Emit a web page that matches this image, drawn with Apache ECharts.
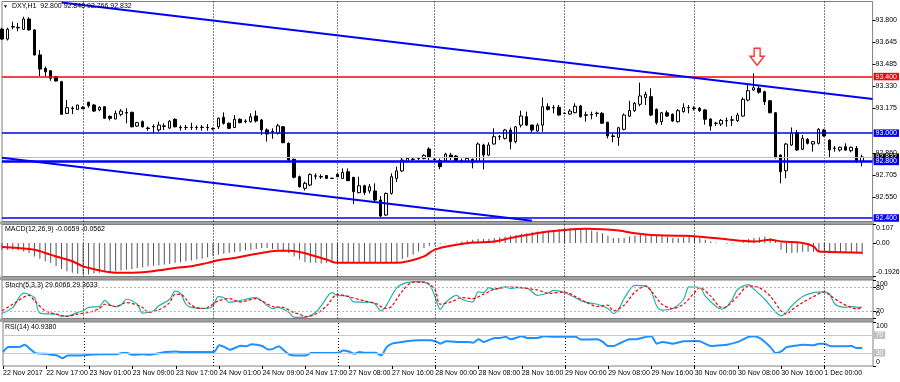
<!DOCTYPE html>
<html><head><meta charset="utf-8">
<script src="https://cdn.jsdelivr.net/npm/echarts@6/dist/echarts.min.js"></script>
<style>html,body{margin:0;padding:0;background:#fff}#c{width:900px;height:382px}</style>
</head><body><div id="c"></div><script>
// ---------- DATA ----------
const sessions = [['22 Nov',9,23],['23 Nov',0,23],['24 Nov',0,22],['27 Nov',6,23],['28 Nov',0,23],['29 Nov',0,23],['30 Nov',0,23],['1 Dec',0,7]];
const firstLabel = '22 Nov 2017';
const futureSlots = 2;

const open = [93.735,93.665,93.750,93.744,93.734,93.807,93.730,93.553,93.458,93.441,
93.399,93.364,93.140,93.178,93.168,93.183,93.218,93.199,93.164,93.187,
93.119,93.100,93.133,93.146,93.147,93.050,93.081,93.036,93.044,93.023,
93.048,93.036,93.098,93.042,93.039,93.040,93.041,93.040,93.041,93.033,
93.045,93.112,93.070,93.040,93.098,93.082,93.081,93.121,93.093,93.023,
93.008,93.000,93.045,92.928,92.815,92.692,92.610,92.633,92.695,92.693,
92.700,92.681,92.709,92.680,92.727,92.688,92.579,92.628,92.591,92.591,
92.527,92.421,92.574,92.680,92.733,92.799,92.813,92.819,92.820,92.888,
92.816,92.805,92.805,92.845,92.838,92.806,92.799,92.815,92.799,92.916,
92.845,92.923,92.974,92.963,93.022,92.940,93.057,93.116,93.057,93.015,
93.057,93.187,93.179,93.183,93.141,93.135,93.145,93.192,93.126,93.131,
93.139,93.140,93.077,92.980,92.970,93.027,93.120,93.159,93.204,93.251,
93.258,93.168,93.081,93.144,93.133,93.081,93.152,93.179,93.177,93.176,
93.164,93.100,93.069,93.065,93.087,93.094,93.088,93.121,93.234,93.305,
93.317,93.293,93.229,93.144,92.845,92.734,92.916,93.003,92.886,92.956,
92.923,92.928,93.022,92.951,92.894,92.881,92.904,92.876,92.893,92.800];
const high = [93.745,93.745,93.788,93.779,93.823,93.820,93.735,93.588,93.470,93.446,
93.405,93.370,93.234,93.190,93.200,93.190,93.222,93.205,93.190,93.190,
93.125,93.160,93.170,93.176,93.152,93.080,93.090,93.047,93.062,93.081,
93.070,93.093,93.105,93.055,93.058,93.074,93.055,93.058,93.064,93.040,
93.110,93.147,93.075,93.128,93.105,93.098,93.140,93.159,93.100,93.034,
93.034,93.066,93.050,92.935,92.820,92.700,92.657,92.716,92.716,92.709,
92.705,92.685,92.715,92.751,92.751,92.690,92.692,92.635,92.640,92.645,
92.555,92.580,92.716,92.763,92.826,92.830,92.830,92.830,92.850,92.900,
92.825,92.820,92.861,92.861,92.845,92.820,92.826,92.820,92.935,92.925,
92.935,93.034,92.987,93.030,93.040,93.050,93.159,93.152,93.060,93.070,
93.253,93.211,93.199,93.199,93.145,93.170,93.211,93.200,93.152,93.152,
93.152,93.150,93.080,93.000,93.045,93.140,93.229,93.220,93.357,93.293,
93.317,93.175,93.150,93.160,93.140,93.170,93.211,93.199,93.190,93.185,
93.170,93.105,93.080,93.100,93.110,93.121,93.144,93.253,93.352,93.423,
93.333,93.300,93.235,93.150,92.850,92.930,93.040,93.022,92.987,92.965,
92.945,93.035,93.030,92.955,92.909,92.905,92.928,92.905,92.909,92.848];
const low = [93.660,93.655,93.734,93.720,93.729,93.725,93.548,93.404,93.400,93.370,
93.365,93.130,93.135,93.135,93.165,93.170,93.180,93.150,93.155,93.100,
93.090,93.098,93.120,93.070,93.040,93.045,93.040,93.017,92.999,93.010,
93.022,93.030,93.040,93.017,93.022,93.022,93.022,93.017,93.017,93.020,
93.030,93.060,93.028,93.035,93.070,93.070,93.075,93.075,92.987,92.940,
92.960,92.990,92.930,92.800,92.680,92.615,92.594,92.625,92.673,92.676,
92.675,92.676,92.690,92.675,92.660,92.499,92.575,92.563,92.575,92.520,
92.405,92.415,92.565,92.655,92.725,92.795,92.805,92.810,92.815,92.810,
92.805,92.744,92.800,92.810,92.800,92.790,92.795,92.751,92.795,92.744,
92.840,92.920,92.952,92.955,92.886,92.928,93.040,93.050,93.003,93.010,
93.010,93.160,93.140,93.125,93.135,93.130,93.140,93.110,93.081,93.098,
93.116,93.065,92.963,92.935,92.910,93.020,93.115,93.150,93.190,93.199,
93.120,93.060,93.058,93.115,93.080,93.075,93.145,93.140,93.160,93.150,
93.060,93.017,93.050,93.050,93.046,93.050,93.080,93.115,93.225,93.300,
93.280,93.199,93.140,92.820,92.645,92.681,92.910,92.875,92.880,92.920,
92.869,92.920,92.975,92.830,92.869,92.870,92.875,92.865,92.790,92.766];
const close = [93.665,93.735,93.754,93.748,93.807,93.730,93.553,93.453,93.434,93.388,
93.369,93.133,93.180,93.174,93.199,93.173,93.194,93.156,93.183,93.105,
93.105,93.140,93.156,93.142,93.045,93.074,93.045,93.033,93.047,93.057,
93.052,93.084,93.045,93.038,93.041,93.040,93.039,93.042,93.039,93.030,
93.105,93.070,93.034,93.098,93.074,93.086,93.116,93.086,93.023,92.994,
93.012,93.052,92.932,92.810,92.688,92.621,92.645,92.707,92.699,92.690,
92.680,92.679,92.692,92.723,92.664,92.586,92.628,92.581,92.621,92.527,
92.414,92.574,92.692,92.733,92.810,92.822,92.817,92.821,92.843,92.830,
92.814,92.763,92.852,92.829,92.805,92.804,92.822,92.791,92.923,92.845,
92.916,92.975,92.976,93.022,92.940,93.045,93.121,93.057,93.022,93.057,
93.187,93.168,93.181,93.128,93.139,93.156,93.190,93.116,93.130,93.129,
93.142,93.070,92.980,92.977,93.038,93.128,93.160,93.211,93.263,93.275,
93.128,93.074,93.144,93.121,93.086,93.159,93.180,93.181,93.175,93.159,
93.098,93.050,93.071,93.090,93.089,93.092,93.128,93.239,93.300,93.321,
93.289,93.222,93.144,92.829,92.727,92.923,92.999,92.881,92.963,92.928,
92.940,93.027,92.980,92.881,92.892,92.900,92.880,92.900,92.800,92.832];

const priceTicks = [93.800,93.645,93.485,93.330,93.175,92.860,92.705,92.550];
const priceMin = 92.3753, priceMax = 93.9308;
const levels = [93.400, 93.000, 92.800, 92.400];
const lastPrice = 92.832;
const upperTrend = [[11, 93.9235],[161, 93.2414]];
const lowerTrend = [[0, 92.8264],[98, 92.381]];
const arrowPoint = [[139, 93.5405]];

const macdHist = [
-0.038,-0.038,-0.038,-0.042,-0.048,-0.057,-0.077,-0.091,-0.105,-0.114,
-0.134,-0.149,-0.162,-0.171,-0.177,-0.181,-0.181,-0.175,-0.171,-0.168,
-0.166,-0.162,-0.158,-0.153,-0.149,-0.143,-0.139,-0.134,-0.130,-0.128,
-0.124,-0.120,-0.114,-0.111,-0.105,-0.101,-0.095,-0.090,-0.082,-0.073,
-0.067,-0.061,-0.057,-0.051,-0.048,-0.042,-0.038,-0.034,-0.029,-0.029,
-0.034,-0.038,-0.048,-0.057,-0.077,-0.095,-0.111,-0.114,-0.114,-0.118,
-0.114,-0.114,-0.111,-0.111,-0.110,-0.112,-0.111,-0.110,-0.111,-0.112,
-0.111,-0.110,-0.109,-0.109,-0.091,-0.082,-0.067,-0.048,-0.029,-0.015,
-0.010,-0.004,-0.003,0.001,0.004,0.009,0.015,0.019,0.023,0.023,
0.025,0.029,0.034,0.038,0.043,0.047,0.053,0.057,0.063,0.066,
0.070,0.072,0.076,0.080,0.082,0.086,0.086,0.086,0.079,0.073,
0.066,0.057,0.042,0.029,0.029,0.029,0.038,0.042,0.047,0.047,
0.047,0.047,0.042,0.038,0.029,0.029,0.034,0.038,0.034,0.029,
0.019,0.009,0.003,0.000,-0.004,-0.003,0.001,0.009,0.023,0.029,
0.034,0.038,0.029,0.019,-0.038,-0.057,-0.057,-0.054,-0.050,-0.050,
-0.050,-0.051,-0.054,-0.057,-0.057,-0.057,-0.057,-0.057,-0.061,-0.0659];
const macdSignal = [[0,-0.023],[3,-0.029],[6,-0.038],[8,-0.057],[10,-0.077],[13,-0.105],[15,-0.134],[18,-0.157],[20,-0.168],[22,-0.171],[26,-0.168],[29,-0.157],[32,-0.143],[35,-0.134],[38,-0.114],[40,-0.099],[43,-0.086],[46,-0.067],[49,-0.051],[51,-0.044],[53,-0.044],[55,-0.051],[57,-0.067],[60,-0.095],[62,-0.114],[73,-0.114],[75,-0.105],[78,-0.077],[80,-0.038],[84,-0.010],[87,0.003],[91,0.009],[94,0.029],[97,0.047],[101,0.066],[104,0.076],[108,0.082],[111,0.080],[114,0.072],[117,0.057],[120,0.047],[123,0.043],[126,0.042],[130,0.034],[133,0.025],[136,0.015],[139,0.009],[142,0.019],[144,0.009],[148,0.0],[150,-0.019],[151,-0.048],[153,-0.051],[159,-0.0562]];
const macdMin = -0.1926, macdMax = 0.107;
const macdTicks = [0.107, 0, -0.1926];
const macdInnerTicks = [0];
const macdInnerLabels = ['0.00'];
const macdEdgeLabels = ['0.107', '-0.1926'];

const stochMain = [[0,13],[2,29],[4,66],[6,54],[7,14],[10,11],[11,6],[12,6],[14,16],[15,20],[16,29],[18,31],[19,47],[20,35],[21,31],[22,35],[23,50],[25,37],[26,14],[28,20],[29,33],[31,50],[32,71],[33,65],[34,37],[35,29],[38,26],[39,33],[40,57],[41,54],[42,42],[44,46],[45,50],[47,54],[48,46],[50,26],[51,29],[53,16],[54,3],[56,3],[58,16],[59,33],[61,67],[62,60],[64,58],[65,43],[68,42],[69,37],[70,20],[71,33],[73,80],[75,94],[77,96],[79,88],[80,58],[81,24],[82,42],[84,60],[85,50],[87,43],[88,69],[89,67],[90,80],[91,76],[93,82],[94,78],[95,80],[97,79],[99,60],[101,67],[102,73],[104,67],[106,54],[107,46],[108,42],[110,37],[112,26],[113,13],[114,24],[115,52],[117,86],[119,84],[120,71],[121,33],[122,22],[124,26],[126,50],[127,82],[129,80],[130,58],[132,31],[133,24],[134,31],[135,50],[136,76],[138,88],[139,76],[141,50],[143,17],[144,7],[145,16],[146,33],[148,57],[150,67],[152,69],[153,63],[154,37],[156,29],[157,31],[158,29],[159,29.6066]];
const stochSignal = [[0,20],[2,37],[5,60],[6,46],[8,20],[10,11.5],[12,5.6],[14,11.5],[16,15.8],[18,26],[19,37],[21,31],[23,41.5],[26,28.7],[27,15.8],[29,22.6],[31,41.5],[32,62.8],[33,62.8],[35,34.6],[37,26],[38,28.7],[40,45.7],[42,51.7],[44,43],[47,51.7],[48,45.7],[50,31.2],[52,28.7],[54,15],[55,11.5],[56,4.7],[58,11.5],[60,32.8],[62,62.8],[64,56.9],[67,45.7],[69,39.6],[71,26],[72,31.2],[74,71.3],[76,94.4],[78,94.4],[80,75.8],[81,37.2],[83,43],[85,54.3],[87,51.7],[89,62.8],[91,75.8],[94,81.8],[96,80],[99,74],[101,65.4],[104,68.8],[106,56.9],[108,42],[110,31.2],[112,34.6],[113,20],[115,34.6],[117,68.8],[119,84.5],[120,71.3],[122,37.2],[124,26],[126,37.2],[128,67.2],[129,80],[131,58],[133,28.7],[134,31.2],[136,58],[138,84.5],[140,80],[142,58],[144,20],[145,11.5],[146,22.6],[148,41.5],[150,56.9],[152,68.8],[153,60.3],[155,41.5],[157,28.7],[158,24.4],[159,29.3633]];
const stochLevels = [80, 20];
const stochTicks = [100, 80, 20, 0];
const stochInnerTicks = [80, 20];
const stochEdgeLabels = ['100', '0'];

const rsi = [[0,31.6],[1,43],[3,43],[4,48.5],[5,39],[6,29.3],[8,27.7],[9,25.4],[10,24],[11,17.7],[12,24],[14,24],[16,25.4],[18,26.9],[21,26.9],[22,29.3],[23,29.3],[24,25.4],[26,26.9],[27,25.4],[29,29.3],[30,31.6],[32,33.1],[33,31.6],[39,31.6],[40,47],[41,43],[42,37],[44,46.2],[45,44.7],[46,49.3],[48,45.4],[49,37.7],[50,39],[51,44.7],[52,35.4],[53,26.2],[54,24],[56,24],[57,29.3],[59,29.3],[62,30],[63,35.4],[64,33.1],[65,27.7],[66,31.6],[67,30],[69,30],[70,24],[71,43],[72,50.8],[73,53.1],[75,57],[77,58.5],[79,58.5],[80,56.2],[81,50.8],[82,56.2],[84,54.7],[86,54.7],[87,53.1],[88,60.8],[89,54.7],[91,63.9],[92,63.9],[93,66.2],[94,60.8],[96,67.7],[97,63.9],[99,63.9],[100,67.7],[102,66.2],[104,66.2],[106,66.2],[107,60],[110,60.8],[111,54.7],[112,45.4],[113,45.4],[114,50.8],[116,60.8],[117,60.8],[119,66.2],[120,67.7],[121,50.8],[122,54.7],[124,50.8],[126,56.2],[128,57],[129,56.2],[131,45.4],[133,47],[134,48.5],[136,54.7],[138,66.2],[139,67.7],[140,63.9],[141,54.7],[142,43],[143,29.3],[144,33],[145,43],[146,44.7],[148,48.5],[150,47],[151,50.8],[152,50.8],[153,45.4],[155,44.7],[157,45.4],[158,40.8],[159,40.938]];
const rsiLevels = [70, 30];
const rsiTicks = [100, 0];
const rsiEdgeLabels = ['100', '0'];

// ---------- BUILD ----------
const categories = [];
sessions.forEach(([d, h0, h1]) => { for (let h = h0; h <= h1; h++) categories.push(d + ' ' + String(h).padStart(2, '0') + ':00'); });
const nBars = categories.length;
for (let k = 0; k < futureSlots; k++) categories.push('');
const dayOf = c => c.split(' ').slice(0, 2).join(' ');
const dayStarts = [];
for (let i = 1; i < nBars; i++) if (dayOf(categories[i]) !== dayOf(categories[i - 1])) dayStarts.push(i);

const candles = open.map((o, i) => [o, close[i], low[i], high[i]]);

const F = 'Liberation Sans, Arial, sans-serif';
const FS = 7;
const GL = 2, GW = 871;
const G = [{top:1.5, height:220}, {top:224.5, height:52}, {top:280, height:38.5}, {top:322, height:44}];

const vlines = dayStarts.map(i => ({xAxis: categories[i], lineStyle:{color:'#000', type:[1,2], width:1}}));

function boxLabel(text, bg, fs){
  return {show:true, position:'end', distance:1, formatter:text, backgroundColor:bg, color:'#fff',
          fontSize: fs || FS, fontFamily:F, padding:[0,2,0,2], lineHeight:7.5};
}

const mkX = k => ({type:'category', gridIndex:k, data:categories, boundaryGap:false,
  axisLine:{show:false}, axisTick:{show:false}, axisLabel:{show:false}, splitLine:{show:false}});
const xAxes = [mkX(0), mkX(1), mkX(2), mkX(3)];
const lblInterval = (i) => i % 8 === 0 && i < nBars;
xAxes[3].axisTick = {show:true, interval:lblInterval, length:3, lineStyle:{color:'#000'}};
xAxes[3].axisLabel = {show:true, interval:lblInterval, align:'left', margin:4, fontSize:FS, fontFamily:F, color:'#000',
  formatter:(v, i) => i === 0 ? firstLabel : v};

const mkY = (k, min, max, ticks, inner, innerLabels) => ({type:'value', gridIndex:k, position:'right', min, max,
  axisLine:{show:false}, splitLine:{show:false},
  axisTick:{show:true, length:3, customValues:ticks, lineStyle:{color:'#000'}},
  axisLabel: inner.length ? {customValues:inner, fontSize:FS, fontFamily:F, color:'#000', margin:3, hideOverlap:false,
    formatter: v => { let k2 = 0, b = 1e9; inner.forEach((t, j) => { const d = Math.abs(t - v); if (d < b) { b = d; k2 = j; } }); return innerLabels[k2]; }}
    : {show:false}});

const yAxes = [
  {type:'value', gridIndex:0, position:'right', min:priceMin, max:priceMax,
   axisLine:{show:false}, splitLine:{show:false},
   axisTick:{show:true, length:3, customValues:priceTicks, lineStyle:{color:'#000'}},
   axisLabel:{customValues:priceTicks, formatter:v => v.toFixed(3), fontSize:FS, fontFamily:F, color:'#000', margin:3}},
  mkY(1, macdMin, macdMax, macdTicks, macdInnerTicks, macdInnerLabels),
  mkY(2, 0, 100, stochTicks, stochInnerTicks, stochInnerTicks.map(String)),
  mkY(3, 0, 100, rsiTicks, [], [])
];

const levelStyles = [
  {color:'#ff0000', width:1.5}, {color:'#0000ff', width:1.5}, {color:'#0000ff', width:2.5}, {color:'#0000ff', width:1.5}
];
const mainLines = [].concat(
  vlines,
  [{yAxis:lastPrice, lineStyle:{color:'#c0c0c0', width:1, type:'solid'}, label:boxLabel(lastPrice.toFixed(3), '#000000')}],
  levels.map((v, k) => ({yAxis:v, lineStyle:Object.assign({type:'solid'}, levelStyles[k]), label:boxLabel(v.toFixed(3), levelStyles[k].color)})),
  [[{coord:upperTrend[0]}, {coord:upperTrend[1]}], [{coord:lowerTrend[0]}, {coord:lowerTrend[1]}]].map(p => {
    p[0].lineStyle = {color:'#0000ff', width:2, type:'solid'}; return p; })
);

const title = (text, left, top) => ({text, left, top, padding:0, textStyle:{fontSize:FS, fontWeight:'normal', color:'#000', fontFamily:F}});

// panel edge labels (max at panel top, min at panel bottom), placed from the panel geometry
const edgeText = (text, y) => ({type:'text', silent:true, z:100, x: GL + GW + 3, y,
  style:{text, fill:'#000', font: FS + 'px ' + F, verticalAlign:'middle', textVerticalAlign:'middle', align:'left'}});
const edgeTexts = [[1, macdEdgeLabels], [2, stochEdgeLabels], [3, rsiEdgeLabels]].flatMap(([k, lb]) =>
  [edgeText(lb[0], G[k].top + 4), edgeText(lb[1], G[k].top + G[k].height - 4)]);

const option = {
  animation:false,
  backgroundColor:'#fff',
  title:[
    title('DXY,H1  92.800 92.848 92.766 92.832', 12, 2.5),
    {text:'▼', left:3, top:4, padding:0, textStyle:{fontSize:5, color:'#000', fontWeight:'normal', fontFamily:F}},
    title('MACD(12,26,9) -0.0659 -0.0562', 5, 226),
    title('Stoch(5,3,3) 29.6066 29.3633', 5, 281.5),
    title('RSI(14) 40.9380', 5, 323.5)
  ],
  grid: G.map(g => ({left:GL, width:GW, top:g.top, height:g.height, show:true, borderColor:'#808080', borderWidth:1})),
  xAxis: xAxes,
  yAxis: yAxes,
  graphic: [
    {type:'rect', silent:true, z:-1, shape:{x:0, y:221.5, width:874, height:3}, style:{fill:'#a0a0a0'}},
    {type:'rect', silent:true, z:-1, shape:{x:0, y:276.5, width:874, height:3.5}, style:{fill:'#a0a0a0'}},
    {type:'rect', silent:true, z:-1, shape:{x:0, y:318.5, width:874, height:3.5}, style:{fill:'#a0a0a0'}}
  ].concat(edgeTexts),
  series: [
    {type:'candlestick', xAxisIndex:0, yAxisIndex:0, data:candles, barWidth:3,
     itemStyle:{color:'#ffffff', color0:'#000000', borderColor:'#000000', borderColor0:'#000000', borderColorDoji:'#000000', borderWidth:1},
     markLine:{silent:true, symbol:['none','none'], animation:false, label:{show:false}, data:mainLines}},
    {type:'scatter', xAxisIndex:0, yAxisIndex:0, data:arrowPoint, silent:true,
     symbol:'path://M4,0 L10,0 L10,8 L14,8 L7,17 L0,8 L4,8 Z', symbolSize:[14,17], symbolOffset:[3.5,0],
     itemStyle:{color:'rgba(0,0,0,0)', borderColor:'#ff0000', borderWidth:1.5}},
    {type:'bar', xAxisIndex:1, yAxisIndex:1, data:macdHist, barWidth:1, itemStyle:{color:'#555555'},
     markLine:{silent:true, symbol:['none','none'], label:{show:false}, data: vlines}},
    {type:'line', xAxisIndex:1, yAxisIndex:1, data:macdSignal, showSymbol:false, smooth:0.4,
     lineStyle:{color:'#ff0000', width:2}},
    {type:'line', xAxisIndex:2, yAxisIndex:2, data:stochMain, showSymbol:false, smooth:0.3,
     lineStyle:{color:'#20b2aa', width:1.2},
     markLine:{silent:true, symbol:['none','none'], label:{show:false},
       data: vlines.concat(stochLevels.map(v => ({yAxis:v, lineStyle:{color:'#b8b8b8', type:[2,2], width:1}})))}},
    {type:'line', xAxisIndex:2, yAxisIndex:2, data:stochSignal, showSymbol:false, smooth:0.3,
     lineStyle:{color:'#ff0000', width:1.2, type:[3,2]}},
    {type:'line', xAxisIndex:3, yAxisIndex:3, data:rsi, showSymbol:false, smooth:0.2,
     lineStyle:{color:'#1e90ff', width:2},
     markLine:{silent:true, symbol:['none','none'], label:{show:false},
       data: vlines.concat(rsiLevels.map(v => ({yAxis:v, lineStyle:{color:'#c8c8c8', type:'solid', width:1},
         label:boxLabel(String(v), '#c0c0c0', 6.5)})))}}
  ]
};

const chart = echarts.init(document.getElementById('c'), null, {renderer:'canvas'});
chart.setOption(option);
</script></body></html>
